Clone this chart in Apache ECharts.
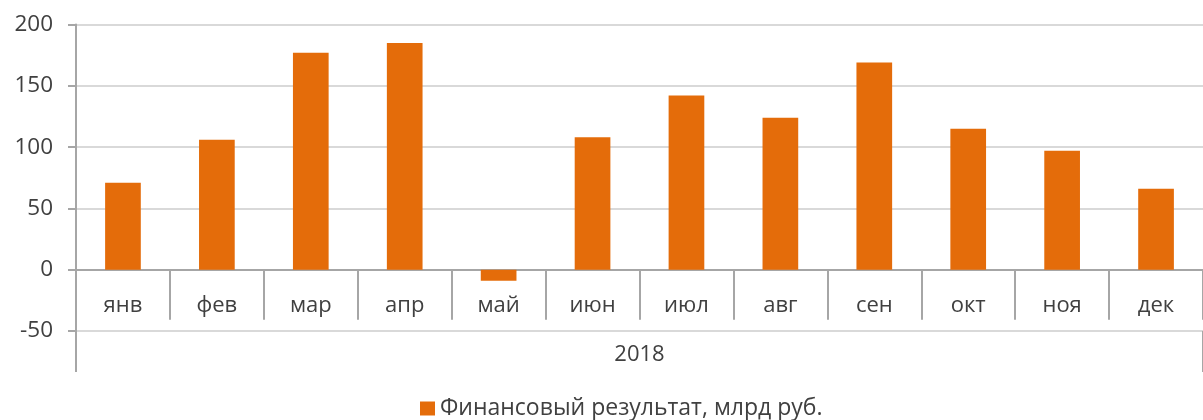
<!DOCTYPE html>
<html>
<head>
<meta charset="utf-8">
<script src="https://cdn.jsdelivr.net/npm/echarts@6/dist/echarts.min.js"></script>
<style>
  html, body { margin: 0; padding: 0; background: #fff; }
  #chart { width: 1203px; height: 420px; }
</style>
</head>
<body>
<div id="chart"></div>
<script>
// данные с картинки
const months = ['янв', 'фев', 'мар', 'апр', 'май', 'июн', 'июл', 'авг', 'сен', 'окт', 'ноя', 'дек'];
const years = ['2018'];
const result = [71, 106, 177, 185, -9, 108, 142, 124, 169, 115, 97, 66];
const seriesName = 'Финансовый результат, млрд руб.';

const font = 'Open Sans';
const textColor = '#404040';
const axisColor = '#a6a6a6';

let chart = echarts.init(document.getElementById('chart'));
let option = {
  animation: false,
  backgroundColor: '#fff',
  grid: {
    left: 76,
    top: 24.5,
    right: -8,
    bottom: 89,
    containLabel: false,
  },
  legend: {
    data: [seriesName],
    left: 415,
    top: 392,
    itemWidth: 15,
    itemHeight: 14,
    itemGap: 6,
    icon: 'rect',
    textStyle: {
      fontFamily: font,
      fontSize: 23,
      color: textColor,
    },
  },
  xAxis: [
    {
      // месяцы — ось проходит по нулю
      type: 'category',
      data: months,
      position: 'bottom',
      offset: -61.3,
      axisLine: { onZero: false, lineStyle: { color: axisColor, width: 2 } },
      axisTick: { show: true, interval: 0, length: 50, lineStyle: { color: axisColor, width: 2 } },
      axisLabel: {
        interval: 0,
        margin: 25,
        fontFamily: font,
        fontSize: 22,
        color: textColor,
      },
      splitLine: { show: false },
    },
    {
      // внешний уровень подписей (год)
      type: 'category',
      data: years,
      position: 'bottom',
      axisLine: { show: false, onZero: false },
      axisTick: { show: true, length: 41, lineStyle: { color: axisColor, width: 2 } },
      axisLabel: {
        margin: 13,
        fontFamily: font,
        fontSize: 22,
        color: textColor,
      },
      splitLine: { show: false },
    },
  ],
  yAxis: {
    type: 'value',
    min: -50,
    max: 200,
    interval: 50,
    axisLine: { show: true, lineStyle: { color: axisColor, width: 2 } },
    axisTick: { show: true, length: 8, lineStyle: { color: axisColor, width: 2 } },
    axisLabel: {
      margin: 23,
      fontFamily: font,
      fontSize: 22.5,
      color: textColor,
    },
    splitLine: { lineStyle: { color: '#d9d9d9', width: 2 } },
  },
  series: [
    {
      name: seriesName,
      type: 'bar',
      data: result,
      barWidth: '38%',
      itemStyle: { color: '#e46c0a' },
    },
  ],
};
chart.setOption(option);
window.addEventListener('resize', () => {
  chart.resize();
});
</script>
</body>
</html>
